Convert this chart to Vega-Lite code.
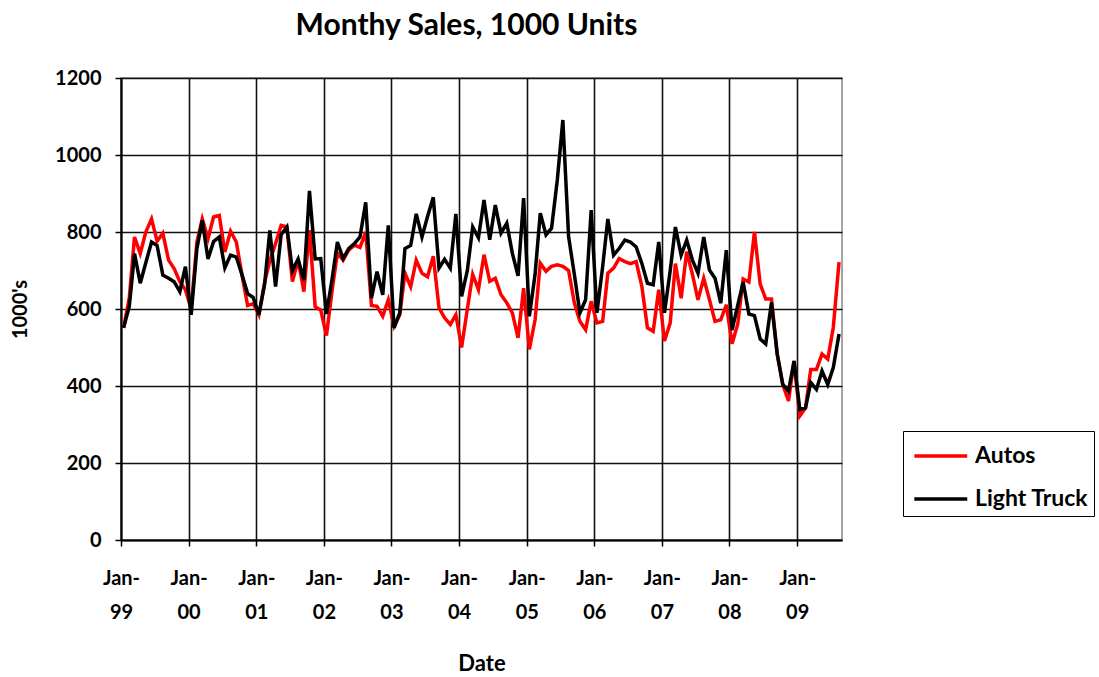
{
  "$schema": "https://vega.github.io/schema/vega-lite/v6.json",
  "width": 721,
  "height": 462,
  "autosize": {"type": "none"},
  "padding": {"left": 121, "top": 78, "right": 257, "bottom": 137},
  "background": "white",
  "title": {"text": "Monthy Sales, 1000 Units", "font": "Lato", "fontSize": 30, "fontWeight": "bold", "color": "black", "anchor": "middle", "offset": 27, "dx": -15},
  "data": {"values": [
    {"date":"1999-01-15","Autos":551,"Light Truck":551},{"date":"1999-02-15","Autos":630,"Light Truck":607},{"date":"1999-03-15","Autos":787,"Light Truck":744},{"date":"1999-04-15","Autos":744,"Light Truck":667},{"date":"1999-05-15","Autos":800,"Light Truck":720},{"date":"1999-06-15","Autos":834,"Light Truck":774},{"date":"1999-07-15","Autos":776,"Light Truck":765},{"date":"1999-08-15","Autos":797,"Light Truck":688},{"date":"1999-09-15","Autos":727,"Light Truck":680},{"date":"1999-10-15","Autos":705,"Light Truck":671},{"date":"1999-11-15","Autos":671,"Light Truck":645},{"date":"1999-12-15","Autos":650,"Light Truck":710},
    {"date":"2000-01-15","Autos":600,"Light Truck":585},{"date":"2000-02-15","Autos":774,"Light Truck":757},{"date":"2000-03-15","Autos":834,"Light Truck":830},{"date":"2000-04-15","Autos":783,"Light Truck":730},{"date":"2000-05-15","Autos":839,"Light Truck":775},{"date":"2000-06-15","Autos":843,"Light Truck":787},{"date":"2000-07-15","Autos":748,"Light Truck":707},{"date":"2000-08-15","Autos":802,"Light Truck":740},{"date":"2000-09-15","Autos":774,"Light Truck":735},{"date":"2000-10-15","Autos":690,"Light Truck":690},{"date":"2000-11-15","Autos":609,"Light Truck":640},{"date":"2000-12-15","Autos":614,"Light Truck":630},
    {"date":"2001-01-15","Autos":585,"Light Truck":585},{"date":"2001-02-15","Autos":670,"Light Truck":665},{"date":"2001-03-15","Autos":725,"Light Truck":804},{"date":"2001-04-15","Autos":770,"Light Truck":658},{"date":"2001-05-15","Autos":817,"Light Truck":793},{"date":"2001-06-15","Autos":813,"Light Truck":813},{"date":"2001-07-15","Autos":671,"Light Truck":700},{"date":"2001-08-15","Autos":727,"Light Truck":730},{"date":"2001-09-15","Autos":645,"Light Truck":675},{"date":"2001-10-15","Autos":805,"Light Truck":907},{"date":"2001-11-15","Autos":606,"Light Truck":730},{"date":"2001-12-15","Autos":597,"Light Truck":731},
    {"date":"2002-01-15","Autos":531,"Light Truck":587},{"date":"2002-02-15","Autos":650,"Light Truck":680},{"date":"2002-03-15","Autos":745,"Light Truck":774},{"date":"2002-04-15","Autos":727,"Light Truck":731},{"date":"2002-05-15","Autos":753,"Light Truck":757},{"date":"2002-06-15","Autos":766,"Light Truck":770},{"date":"2002-07-15","Autos":760,"Light Truck":787},{"date":"2002-08-15","Autos":800,"Light Truck":877},{"date":"2002-09-15","Autos":609,"Light Truck":628},{"date":"2002-10-15","Autos":607,"Light Truck":697},{"date":"2002-11-15","Autos":581,"Light Truck":637},{"date":"2002-12-15","Autos":624,"Light Truck":817},
    {"date":"2003-01-15","Autos":555,"Light Truck":551},{"date":"2003-02-15","Autos":585,"Light Truck":590},{"date":"2003-03-15","Autos":693,"Light Truck":757},{"date":"2003-04-15","Autos":658,"Light Truck":765},{"date":"2003-05-15","Autos":727,"Light Truck":847},{"date":"2003-06-15","Autos":693,"Light Truck":787},{"date":"2003-07-15","Autos":684,"Light Truck":840},{"date":"2003-08-15","Autos":737,"Light Truck":890},{"date":"2003-09-15","Autos":603,"Light Truck":706},{"date":"2003-10-15","Autos":577,"Light Truck":729},{"date":"2003-11-15","Autos":560,"Light Truck":706},{"date":"2003-12-15","Autos":585,"Light Truck":847},
    {"date":"2004-01-15","Autos":500,"Light Truck":633},{"date":"2004-02-15","Autos":600,"Light Truck":700},{"date":"2004-03-15","Autos":690,"Light Truck":813},{"date":"2004-04-15","Autos":650,"Light Truck":785},{"date":"2004-05-15","Autos":741,"Light Truck":883},{"date":"2004-06-15","Autos":672,"Light Truck":780},{"date":"2004-07-15","Autos":680,"Light Truck":870},{"date":"2004-08-15","Autos":637,"Light Truck":797},{"date":"2004-09-15","Autos":616,"Light Truck":823},{"date":"2004-10-15","Autos":590,"Light Truck":745},{"date":"2004-11-15","Autos":525,"Light Truck":686},{"date":"2004-12-15","Autos":654,"Light Truck":888},
    {"date":"2005-01-15","Autos":495,"Light Truck":581},{"date":"2005-02-15","Autos":572,"Light Truck":690},{"date":"2005-03-15","Autos":719,"Light Truck":849},{"date":"2005-04-15","Autos":698,"Light Truck":793},{"date":"2005-05-15","Autos":711,"Light Truck":810},{"date":"2005-06-15","Autos":715,"Light Truck":935},{"date":"2005-07-15","Autos":711,"Light Truck":1091},{"date":"2005-08-15","Autos":700,"Light Truck":788},{"date":"2005-09-15","Autos":616,"Light Truck":690},{"date":"2005-10-15","Autos":568,"Light Truck":590},{"date":"2005-11-15","Autos":546,"Light Truck":624},{"date":"2005-12-15","Autos":620,"Light Truck":857},
    {"date":"2006-01-15","Autos":564,"Light Truck":590},{"date":"2006-02-15","Autos":568,"Light Truck":710},{"date":"2006-03-15","Autos":693,"Light Truck":834},{"date":"2006-04-15","Autos":706,"Light Truck":740},{"date":"2006-05-15","Autos":731,"Light Truck":757},{"date":"2006-06-15","Autos":723,"Light Truck":779},{"date":"2006-07-15","Autos":718,"Light Truck":774},{"date":"2006-08-15","Autos":723,"Light Truck":761},{"date":"2006-09-15","Autos":658,"Light Truck":718},{"date":"2006-10-15","Autos":551,"Light Truck":667},{"date":"2006-11-15","Autos":542,"Light Truck":663},{"date":"2006-12-15","Autos":650,"Light Truck":774},
    {"date":"2007-01-15","Autos":517,"Light Truck":590},{"date":"2007-02-15","Autos":564,"Light Truck":700},{"date":"2007-03-15","Autos":718,"Light Truck":813},{"date":"2007-04-15","Autos":628,"Light Truck":740},{"date":"2007-05-15","Autos":749,"Light Truck":779},{"date":"2007-06-15","Autos":690,"Light Truck":727},{"date":"2007-07-15","Autos":624,"Light Truck":693},{"date":"2007-08-15","Autos":680,"Light Truck":787},{"date":"2007-09-15","Autos":624,"Light Truck":701},{"date":"2007-10-15","Autos":568,"Light Truck":680},{"date":"2007-11-15","Autos":572,"Light Truck":615},{"date":"2007-12-15","Autos":611,"Light Truck":753},
    {"date":"2008-01-15","Autos":510,"Light Truck":545},{"date":"2008-02-15","Autos":561,"Light Truck":610},{"date":"2008-03-15","Autos":678,"Light Truck":670},{"date":"2008-04-15","Autos":670,"Light Truck":587},{"date":"2008-05-15","Autos":800,"Light Truck":583},{"date":"2008-06-15","Autos":665,"Light Truck":522},{"date":"2008-07-15","Autos":626,"Light Truck":509},{"date":"2008-08-15","Autos":626,"Light Truck":617},{"date":"2008-09-15","Autos":483,"Light Truck":483},{"date":"2008-10-15","Autos":404,"Light Truck":404},{"date":"2008-11-15","Autos":361,"Light Truck":387},{"date":"2008-12-15","Autos":465,"Light Truck":465},
    {"date":"2009-01-15","Autos":322,"Light Truck":339},{"date":"2009-02-15","Autos":343,"Light Truck":343},{"date":"2009-03-15","Autos":443,"Light Truck":409},{"date":"2009-04-15","Autos":443,"Light Truck":391},{"date":"2009-05-15","Autos":483,"Light Truck":439},{"date":"2009-06-15","Autos":470,"Light Truck":404},{"date":"2009-07-15","Autos":552,"Light Truck":448},{"date":"2009-08-15","Autos":722,"Light Truck":535}
  ]},
  "transform": [{"fold": ["Autos", "Light Truck"], "as": ["series", "value"]}],
  "mark": {"type": "line", "strokeWidth": 3.5},
  "encoding": {
    "x": {
      "field": "date", "type": "temporal",
      "scale": {"type": "utc", "domain": [{"year": 1999, "month": 1, "date": 1, "utc": true}, {"year": 2009, "month": 8, "date": 31, "utc": true}]},
      "title": "Date",
      "axis": {
        "tickCount": {"interval": "year", "step": 1},
        "labelExpr": "[utcFormat(datum.value, '%b-'), utcFormat(datum.value, '%y')]",
        "labelAngle": 0, "labelAlign": "center", "labelBaseline": "top", "labelFontSize": 20,
        "labelPadding": 22, "labelLineHeight": 34, "labelFlush": false, "labelOverlap": false,
        "titleY": 123, "titleBaseline": "middle", "titleFontSize": 22
      }
    },
    "y": {
      "field": "value", "type": "quantitative",
      "scale": {"domain": [0, 1200], "nice": false},
      "title": "1000's",
      "axis": {"values": [0, 200, 400, 600, 800, 1000, 1200], "format": "d", "labelFontSize": 20, "labelPadding": 14, "titleX": -101, "titleY": 231, "titleBaseline": "middle", "titleFontSize": 20}
    },
    "color": {
      "field": "series", "type": "nominal",
      "scale": {"domain": ["Autos", "Light Truck"], "range": ["#ff0000", "#000000"]},
      "legend": {
        "orient": "none", "legendX": 782, "legendY": 353, "title": null,
        "symbolType": "M-0.76,0H2.18", "symbolSize": 1296, "symbolStrokeWidth": 3.5,
        "labelFont": "Lato", "labelFontSize": 23, "labelFontWeight": "bold", "labelColor": "black",
        "labelOffset": 27, "strokeColor": "black", "fillColor": "white", "padding": 5, "rowPadding": 11
      }
    }
  },
  "config": {
    "view": {"stroke": "#888888", "strokeWidth": 1.5},
    "font": "Lato",
    "axis": {
      "labelFont": "Lato", "labelFontSize": 19, "labelFontWeight": "bold", "labelColor": "black",
      "titleFont": "Lato", "titleFontWeight": "bold", "titleColor": "black",
      "grid": true, "gridColor": "#111111", "gridWidth": 1.6, "gridOpacity": 1,
      "tickColor": "black", "tickWidth": 1.5, "tickSize": 6,
      "domainColor": "black", "domainWidth": 2
    }
  }
}
